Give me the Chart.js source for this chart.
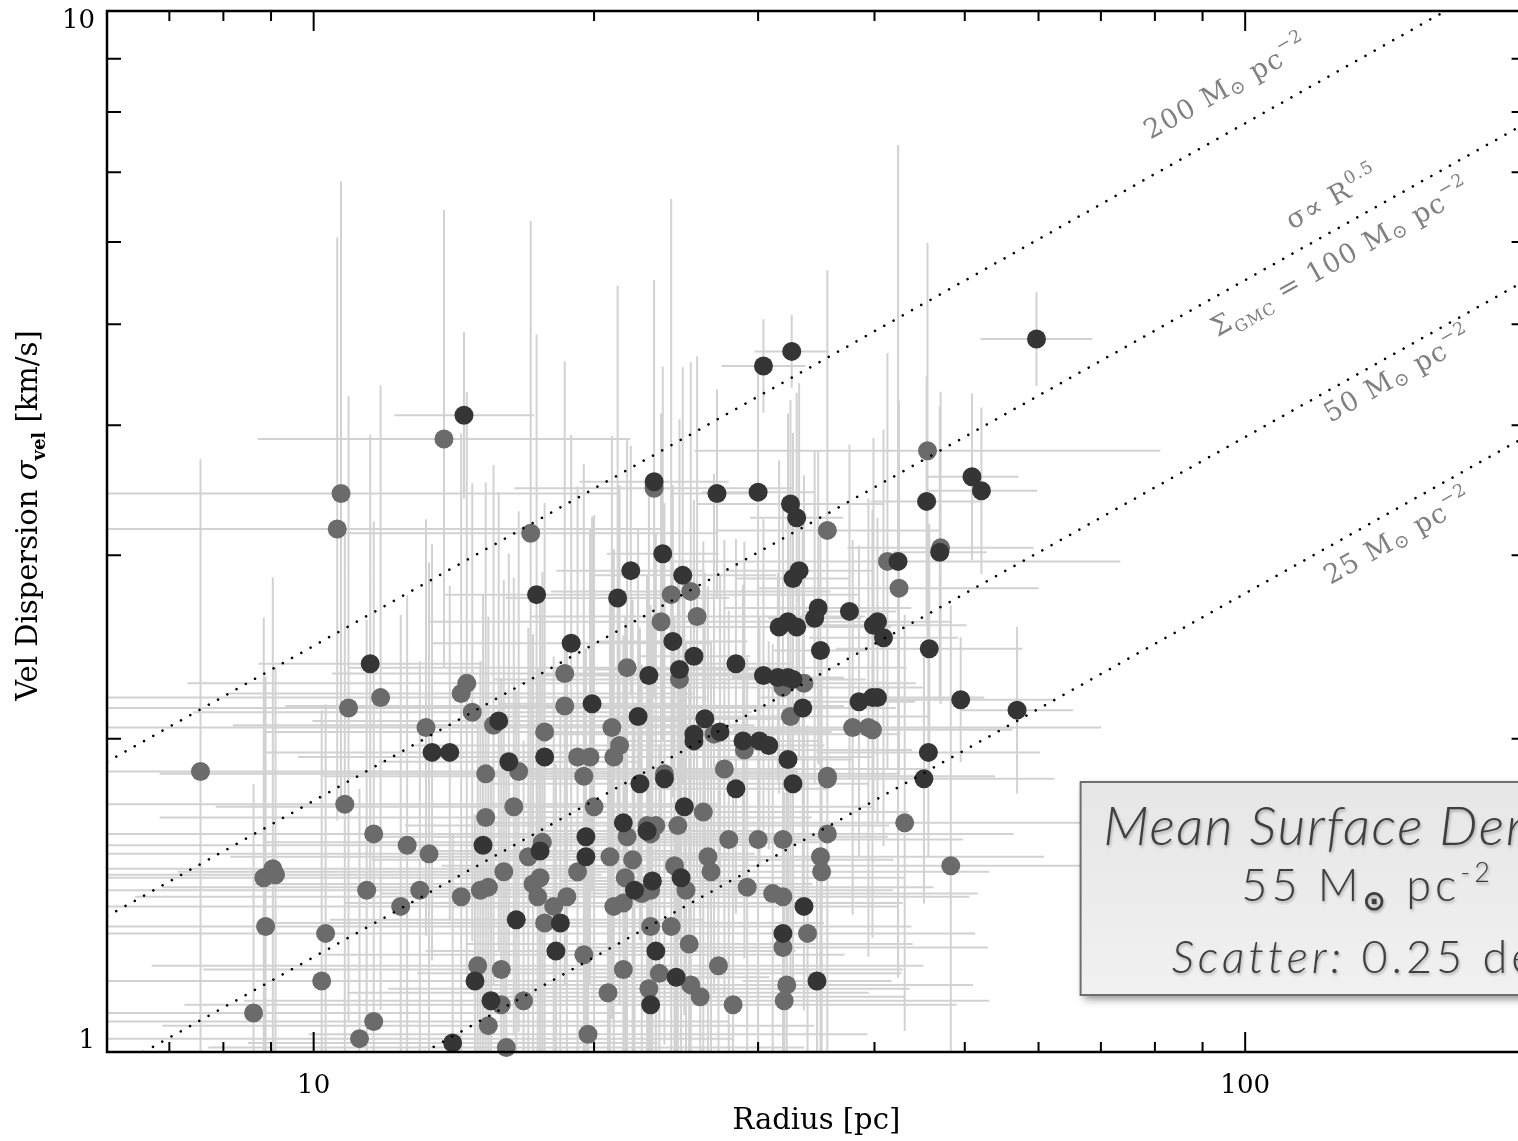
<!DOCTYPE html>
<html lang="en">
<head>
<meta charset="UTF-8">
<title>Radius vs velocity dispersion</title>
<script src="https://cdn.jsdelivr.net/npm/chart.js"></script>
<style>
  html, body { margin: 0; padding: 0; background: #fff; overflow: hidden; }
  #wrap { width: 1700px; height: 1141px; }
</style>
</head>
<body>
<div id="wrap"><canvas id="chart" width="1700" height="1141"></canvas></div>
<script>
  // each cloud: [radius (pc), sigma (km/s), error on R (dex), error on sigma (dex)]
  const darkClouds = [
    [59.7,4.84,0.06,0.045],[32.6,4.71,0.04,0.035],[30.4,4.56,0.045,0.045],[14.5,4.09,0.075,0.08],
    [17.35,2.75,0.10,0.25],[21.2,2.73,0.12,0.30],[18.9,2.47,0.15,0.20],[11.5,2.36,0.12,0.22],
    [19.9,2.16,0.10,0.18],[23.2,3.53,0.08,0.15],[27.1,3.44,0.05,0.10],[30.0,3.45,0.06,0.12],
    [32.5,3.36,0.10,0.10],[33.0,3.26,0.05,0.12],[50.9,3.57,0.05,0.08],[52.1,3.46,0.06,0.08],
    [45.5,3.38,0.06,0.12],[47.0,3.02,0.05,0.14],[42.4,2.96,0.10,0.40],[23.7,3.01,0.06,0.18],
    [21.9,2.90,0.08,0.12],[24.9,2.87,0.10,0.20],[24.3,2.48,0.08,0.15],[25.6,2.40,0.06,0.15],
    [24.7,2.33,0.10,0.12],[22.9,2.30,0.12,0.18],[28.4,2.36,0.06,0.12],[30.4,2.30,0.05,0.15],
    [31.5,2.29,0.04,0.10],[32.3,2.29,0.06,0.20],[32.7,2.28,0.05,0.12],[33.2,2.90,0.08,0.18],
    [32.7,2.85,0.06,0.14],[34.8,2.67,0.10,0.15],[34.5,2.61,0.05,0.16],[37.6,2.65,0.05,0.16],
    [32.3,2.59,0.08,0.20],[31.6,2.56,0.12,0.16],[33.0,2.56,0.07,0.10],[40.3,2.59,0.08,0.10],
    [39.9,2.57,0.10,0.18],[40.9,2.50,0.08,0.20],[35.0,2.43,0.05,0.12],[45.8,2.44,0.10,0.12],
    [49.5,2.18,0.10,0.06],[38.5,2.17,0.06,0.15],[39.8,2.19,0.12,0.18],[40.3,2.19,0.10,0.12],
    [56.9,2.13,0.06,0.08],[22.3,2.10,0.15,0.18],[22.4,1.81,0.16,0.15],[23.8,1.83,0.14,0.20],
    [25.6,2.02,0.10,0.16],[25.6,1.99,0.08,0.20],[26.3,2.09,0.10,0.14],[27.3,2.03,0.12,0.15],
    [28.9,1.99,0.08,0.15],[30.1,1.99,0.06,0.12],[30.8,1.97,0.05,0.10],[28.4,1.79,0.10,0.12],
    [32.3,1.91,0.07,0.16],[32.7,1.81,0.08,0.20],[33.5,2.14,0.10,0.18],[45.7,1.94,0.12,0.10],
    [45.2,1.83,0.14,0.12],[25.0,1.72,0.12,0.20],[21.5,1.66,0.15,0.18],[22.8,1.63,0.12,0.22],
    [23.1,1.46,0.10,0.25],[24.8,1.47,0.12,0.20],[22.1,1.43,0.14,0.18],[33.6,1.38,0.10,0.10],
    [31.9,1.30,0.12,0.14],[34.7,1.17,0.08,0.12],[23.3,1.25,0.15,0.20],[24.5,1.18,0.10,0.15],
    [23.0,1.11,0.12,0.14],[13.4,1.94,0.18,0.20],[14.0,1.94,0.15,0.16],[15.8,2.08,0.20,0.22],
    [17.7,1.92,0.16,0.18],[16.2,1.90,0.14,0.20],[15.2,1.58,0.18,0.24],[17.5,1.56,0.15,0.20],
    [19.6,1.61,0.20,0.18],[19.6,1.54,0.12,0.20],[16.5,1.34,0.20,0.22],[18.4,1.33,0.16,0.20],
    [18.2,1.25,0.14,0.18],[14.9,1.17,0.20,0.16],[15.5,1.12,0.18,0.22],[14.1,1.02,0.22,0.20]
  ];

  const grayClouds = [
    [13.8,3.88,0.20,0.22],[10.7,3.44,0.30,0.30],[10.6,3.18,0.35,0.28],[17.1,3.15,0.20,0.30],
    [23.2,3.48,0.15,0.20],[45.6,3.78,0.25,0.20],[47.1,3.05,0.10,0.15],[41.3,2.96,0.25,0.20],
    [42.5,2.79,0.15,0.18],[35.6,3.17,0.12,0.25],[24.2,2.75,0.20,0.38],[25.4,2.77,0.15,0.22],
    [25.8,2.62,0.18,0.25],[23.6,2.59,0.25,0.20],[21.7,2.34,0.30,0.22],[24.7,2.28,0.20,0.25],
    [31.9,2.24,0.15,0.18],[33.6,2.26,0.12,0.20],[18.6,2.31,0.25,0.30],[14.6,2.26,0.30,0.28],
    [14.4,2.21,0.25,0.25],[11.8,2.19,0.35,0.30],[18.6,2.15,0.30,0.25],[10.9,2.14,0.40,0.30],
    [14.8,2.12,0.30,0.22],[15.6,2.06,0.28,0.25],[13.2,2.05,0.35,0.20],[20.9,2.05,0.25,0.28],
    [17.7,2.03,0.30,0.22],[21.3,1.97,0.22,0.25],[21.0,1.92,0.28,0.20],[19.2,1.92,0.30,0.26],
    [19.8,1.92,0.25,0.22],[26.9,2.02,0.20,0.25],[29.0,1.95,0.18,0.20],[27.6,1.87,0.22,0.22],
    [32.5,2.10,0.15,0.25],[37.9,2.05,0.20,0.18],[39.4,2.05,0.25,0.22],[39.8,2.04,0.15,0.20],
    [35.6,1.84,0.18,0.20],[35.6,1.83,0.22,0.24],[43.1,1.66,0.25,0.20],[48.3,1.51,0.30,0.25],
    [7.56,1.86,0.40,0.30],[15.3,1.85,0.35,0.28],[16.6,1.86,0.30,0.25],[19.5,1.84,0.28,0.30],
    [10.8,1.73,0.40,0.26],[16.4,1.72,0.32,0.22],[20.0,1.72,0.30,0.28],[15.3,1.68,0.35,0.25],
    [11.6,1.62,0.40,0.30],[12.6,1.58,0.38,0.24],[13.3,1.55,0.35,0.28],[17.6,1.59,0.30,0.26],
    [17.0,1.54,0.32,0.22],[20.8,1.54,0.28,0.25],[16.0,1.49,0.35,0.28],[19.2,1.49,0.30,0.24],
    [9.04,1.50,0.40,0.28],[9.10,1.48,0.35,0.20],[8.84,1.47,0.38,0.25],[11.4,1.43,0.40,0.26],
    [13.0,1.43,0.36,0.22],[12.4,1.38,0.38,0.28],[14.4,1.41,0.35,0.25],[15.1,1.43,0.32,0.22],
    [15.4,1.44,0.35,0.26],[17.2,1.45,0.30,0.24],[17.5,1.47,0.32,0.28],[17.4,1.41,0.28,0.22],
    [18.7,1.41,0.30,0.25],[18.1,1.38,0.32,0.24],[17.7,1.33,0.30,0.26],[19.5,1.24,0.28,0.22],
    [21.0,1.38,0.26,0.25],[8.88,1.32,0.40,0.24],[10.3,1.30,0.38,0.22],[10.2,1.17,0.40,0.26],
    [15.0,1.21,0.35,0.24],[15.9,1.20,0.32,0.28],[15.9,1.11,0.34,0.22],[16.8,1.12,0.30,0.25],
    [15.4,1.06,0.35,0.24],[16.1,1.01,0.32,0.26],[8.62,1.09,0.40,0.22],[11.6,1.07,0.38,0.25],
    [11.2,1.03,0.40,0.24],[19.7,1.04,0.30,0.22],[20.7,1.14,0.28,0.25],[26.2,1.70,0.22,0.26],
    [22.8,1.65,0.26,0.24],[23.3,1.65,0.24,0.28],[23.0,1.62,0.25,0.22],[21.7,1.61,0.28,0.25],
    [24.6,1.65,0.22,0.24],[27.9,1.60,0.20,0.22],[30.0,1.60,0.22,0.26],[31.9,1.60,0.18,0.24],
    [35.6,1.62,0.20,0.22],[35.0,1.54,0.24,0.26],[35.1,1.49,0.18,0.22],[22.0,1.53,0.28,0.25],
    [24.4,1.51,0.25,0.24],[26.5,1.54,0.22,0.26],[26.7,1.49,0.24,0.22],[21.6,1.47,0.30,0.25],
    [25.1,1.43,0.22,0.24],[23.0,1.43,0.26,0.26],[22.5,1.42,0.28,0.22],[21.5,1.39,0.30,0.25],
    [29.2,1.44,0.20,0.22],[31.1,1.42,0.22,0.24],[31.9,1.41,0.20,0.22],[31.9,1.26,0.22,0.24],
    [33.9,1.30,0.18,0.20],[32.2,1.16,0.20,0.22],[32.0,1.12,0.22,0.20],[28.2,1.11,0.24,0.22],
    [23.0,1.32,0.28,0.24],[24.2,1.32,0.25,0.22],[25.3,1.27,0.24,0.25],[27.2,1.21,0.22,0.22],
    [21.5,1.20,0.30,0.24],[23.5,1.19,0.26,0.22],[25.4,1.16,0.24,0.25],[26.0,1.13,0.22,0.22],
    [22.9,1.15,0.28,0.24],[23.8,1.85,0.25,0.26]
  ];

  // constant surface density lines (sigma ~ R^0.5), end points
  const line200 = [[6, 1.90], [164, 10]];
  const line100 = [[6, 1.35], [200, 7.80]];
  const line50  = [[6.57, 1], [200, 5.51]];
  const line25  = [[13.15, 1], [200, 3.90]];

  const xMajor = [10, 100];
  const xMinor = [7, 8, 9, 20, 30, 40, 50, 60, 70, 80, 90, 200];
  const yMajor = [1, 10];
  const yMinor = [2, 3, 4, 5, 6, 7, 8, 9];

  const SERIF = '"DejaVu Serif", serif';
  const SANS = 'Lato, "Open Sans", sans-serif';

  // text along the lines: [R, sigma] of the start of the baseline, then segments
  const sun = { t: '\u2299', k: 0.7, dy: 0.12 };
  const lineLabels = [
    { at: [79.1, 7.52], segs: [{ t: '200 M' }, sun, { t: ' pc' }, { t: '\u22122', k: 0.65, dy: -0.5 }] },
    { at: [112.3, 6.16], segs: [{ t: '\u03c3\u221d R' }, { t: '0.5', k: 0.65, dy: -0.45 }] },
    { at: [93.3, 4.86], segs: [{ t: '\u03a3' }, { t: 'GMC', k: 0.6, dy: 0.25 }, { t: ' = 100 M' }, sun, { t: ' pc' }, { t: '\u22122', k: 0.65, dy: -0.5 }] },
    { at: [123.4, 4.02], segs: [{ t: '50 M' }, sun, { t: ' pc' }, { t: '\u22122', k: 0.65, dy: -0.5 }] },
    { at: [123.4, 2.81], segs: [{ t: '25 M' }, sun, { t: ' pc' }, { t: '\u22122', k: 0.65, dy: -0.5 }] }
  ];

  function segFont(s, size, family) {
    return `${s.style || 'normal'} ${s.weight || 'normal'} ${(size * (s.k || 1)).toFixed(1)}px ${s.family || family}`;
  }

  function drawRich(ctx, segs, x, y, angle, size, family, align, spacing) {
    ctx.save();
    ctx.translate(x, y);
    ctx.rotate(angle);
    ctx.textBaseline = 'alphabetic';
    ctx.textAlign = 'left';
    ctx.letterSpacing = (spacing || 0) + 'px';
    let w = 0;
    segs.forEach(s => { ctx.font = segFont(s, size, family); w += ctx.measureText(s.t).width; });
    let cx = align === 'center' ? -w / 2 : 0;
    segs.forEach(s => {
      ctx.font = segFont(s, size, family);
      ctx.fillText(s.t, cx, (s.dy || 0) * size);
      cx += ctx.measureText(s.t).width;
    });
    ctx.restore();
  }

  const errorBars = {
    id: 'errorBars',
    beforeDatasetsDraw(chart) {
      const { ctx, chartArea: a, scales: { x, y } } = chart;
      ctx.save();
      ctx.beginPath();
      ctx.rect(a.left, a.top, a.right - a.left, a.bottom - a.top);
      ctx.clip();
      ctx.strokeStyle = '#d2d2d2';
      ctx.lineWidth = 2;
      ctx.beginPath();
      [grayClouds, darkClouds].forEach(set => set.forEach(([r, s, dr, ds]) => {
        const px = x.getPixelForValue(r), py = y.getPixelForValue(s);
        const f = Math.pow(10, dr), g = Math.pow(10, ds);
        ctx.moveTo(x.getPixelForValue(r / f), py);
        ctx.lineTo(x.getPixelForValue(r * f), py);
        ctx.moveTo(px, y.getPixelForValue(s / g));
        ctx.lineTo(px, y.getPixelForValue(s * g));
      }));
      ctx.stroke();
      ctx.restore();
    }
  };

  const frame = {
    id: 'frame',
    afterDatasetsDraw(chart) {
      const { ctx, chartArea: a, scales: { x, y } } = chart;
      ctx.save();
      ctx.strokeStyle = '#000';
      ctx.lineWidth = 2.5;
      ctx.strokeRect(a.left, a.top, a.right - a.left, a.bottom - a.top);
      ctx.lineWidth = 2;
      ctx.beginPath();
      const xt = (v, len) => {
        const p = x.getPixelForValue(v);
        ctx.moveTo(p, a.bottom); ctx.lineTo(p, a.bottom - len);
        ctx.moveTo(p, a.top); ctx.lineTo(p, a.top + len);
      };
      xMajor.forEach(v => xt(v, 20));
      xMinor.forEach(v => xt(v, 10));
      yMinor.forEach(v => {
        const p = y.getPixelForValue(v);
        ctx.moveTo(a.left, p); ctx.lineTo(a.left + 14, p);
        ctx.moveTo(a.right, p); ctx.lineTo(a.right - 14, p);
      });
      ctx.stroke();

      // labels along the density lines
      const p1x = x.getPixelForValue(10), p1y = y.getPixelForValue(1);
      const p2x = x.getPixelForValue(100), p2y = y.getPixelForValue(Math.sqrt(10));
      const ang = Math.atan2(p2y - p1y, p2x - p1x);
      ctx.fillStyle = '#808080';
      lineLabels.forEach(l => {
        drawRich(ctx, l.segs, x.getPixelForValue(l.at[0]), y.getPixelForValue(l.at[1]), ang, 27, SERIF, 'left', 1.2);
      });
      ctx.restore();
    },
    afterDraw(chart) {
      const { ctx, chartArea: a } = chart;
      ctx.save();
      // y axis title with subscript
      ctx.fillStyle = '#000';
      drawRich(ctx, [
        { t: 'Vel Dispersion ' },
        { t: '\u03c3', style: 'italic' },
        { t: 'vel', k: 0.62, dy: 0.28, weight: 'bold' },
        { t: ' [km/s]' }
      ], 37, (a.top + a.bottom) / 2 - 16, -Math.PI / 2, 29, SERIF, 'center');

      // summary box
      const bx = a.right - 445, by = a.bottom - 270, bw = 580, bh = 213;
      ctx.save();
      ctx.shadowColor = 'rgba(0,0,0,0.45)';
      ctx.shadowBlur = 8;
      ctx.shadowOffsetX = 3;
      ctx.shadowOffsetY = 4;
      const grad = ctx.createLinearGradient(0, by, 0, by + bh);
      grad.addColorStop(0, '#e6e6e6');
      grad.addColorStop(1, '#f1f1f1');
      ctx.fillStyle = grad;
      ctx.fillRect(bx, by, bw, bh);
      ctx.restore();
      ctx.strokeStyle = '#6e6e6e';
      ctx.lineWidth = 2;
      ctx.strokeRect(bx, by, bw, bh);

      ctx.shadowColor = 'rgba(0,0,0,0.3)';
      ctx.shadowBlur = 3;
      ctx.shadowOffsetX = 1;
      ctx.shadowOffsetY = 2;
      ctx.fillStyle = '#3e3e3e';
      const cx = bx + 287;
      drawRich(ctx, [{ t: 'Mean Surface Density:', style: 'italic', weight: '300' }], cx, by + 63, 0, 54, SANS, 'center', 1.6);
      drawRich(ctx, [
        { t: '55 M', weight: '300' },
        { t: '\u2299', k: 0.62, dy: 0.2, weight: 'bold', family: '"DejaVu Sans", sans-serif' },
        { t: ' pc', weight: '300' },
        { t: '-2', k: 0.6, dy: -0.42, weight: '300' }
      ], cx, by + 119, 0, 45, SANS, 'center', 4);
      drawRich(ctx, [
        { t: 'Scatter:', style: 'italic', weight: '300' },
        { t: ' 0.25 dex', weight: '300' }
      ], cx, by + 191, 0, 45, SANS, 'center', 4);
      ctx.restore();
    }
  };

  const toXY = arr => arr.map(([r, s]) => ({ x: r, y: s }));
  const dotted = pts => ({
    type: 'line', data: toXY(pts), borderColor: '#000', borderWidth: 2.6,
    borderDash: [0.01, 10.6], borderCapStyle: 'round', pointRadius: 0, fill: false
  });

  new Chart(document.getElementById('chart'), {
    type: 'scatter',
    data: {
      datasets: [
        dotted(line200), dotted(line100), dotted(line50), dotted(line25),
        { data: toXY(darkClouds), backgroundColor: '#353535', borderWidth: 0, pointRadius: 9.5, pointHoverRadius: 9.5, clip: false },
        { data: toXY(grayClouds), backgroundColor: '#6b6b6b', borderWidth: 0, pointRadius: 9.5, pointHoverRadius: 9.5, clip: false }
      ]
    },
    options: {
      responsive: false,
      animation: false,
      events: [],
      layout: { padding: { top: 11, right: 1700 - 1525.6, left: 0, bottom: 0 } },
      plugins: { legend: { display: false }, tooltip: { enabled: false } },
      scales: {
        x: {
          type: 'logarithmic', min: 6, max: 200,
          afterBuildTicks: s => { s.ticks = xMajor.map(v => ({ value: v })); },
          afterFit: s => { s.height = 89; s.paddingLeft = 0; s.paddingRight = 0; },
          grid: { display: false, drawTicks: false },
          border: { display: false },
          ticks: {
            callback: v => String(v), color: '#000', padding: 19, maxRotation: 0, autoSkip: false,
            font: { family: SERIF, size: 26 }
          },
          title: {
            display: true, text: 'Radius [pc]', color: '#000',
            font: { family: SERIF, size: 29 }, padding: { top: 0, bottom: 2 }
          }
        },
        y: {
          type: 'logarithmic', min: 1, max: 10,
          afterBuildTicks: s => { s.ticks = yMajor.map(v => ({ value: v })); },
          afterFit: s => { s.width = 107; s.paddingTop = 0; s.paddingBottom = 0; },
          grid: { display: false, drawTicks: false },
          border: { display: false },
          ticks: {
            callback: v => (v === 10 ? ['', '10'] : ['1', '']), color: '#000', padding: 12, autoSkip: false,
            font: { family: SERIF, size: 26, lineHeight: 0.8 }
          }
        }
      }
    },
    plugins: [errorBars, frame]
  });
</script>
</body>
</html>
